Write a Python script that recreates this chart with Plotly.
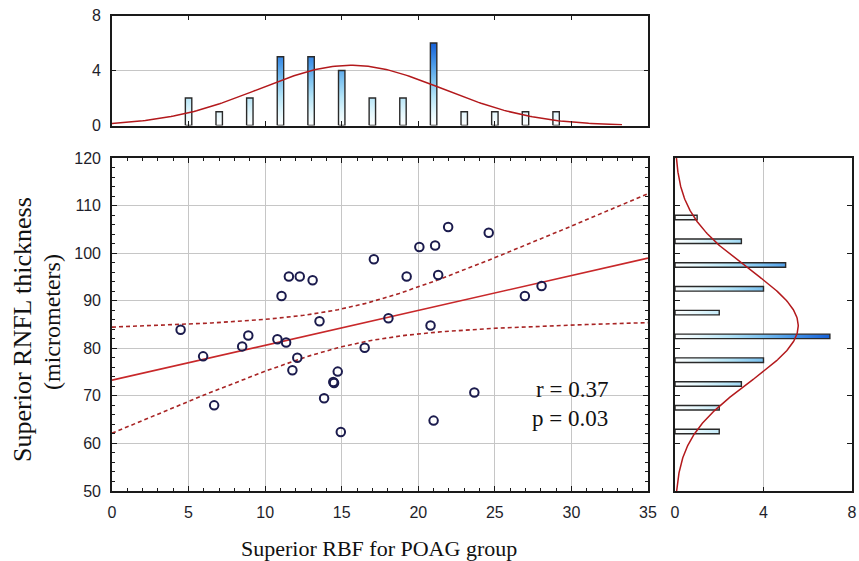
import numpy as np
import plotly.graph_objects as go

# Superior retrobulbar blood flow (RBF) and superior RNFL thickness, POAG group
rbf = [4.48, 5.95, 6.67, 8.5, 8.9, 10.8, 11.07, 11.37, 11.55, 11.78, 12.1,
       12.26, 13.1, 13.55, 13.85, 14.45, 14.5, 14.74, 14.94, 16.5, 17.1,
       18.05, 19.24, 20.07, 20.8, 21.0, 21.1, 21.3, 21.95, 23.66, 24.6,
       26.96, 28.05]
rnfl = [83.9, 78.3, 68.0, 80.4, 82.7, 81.9, 91.0, 81.2, 95.1, 75.4, 78.0,
        95.1, 94.3, 85.7, 69.5, 72.9, 72.7, 75.1, 62.4, 80.1, 98.7,
        86.3, 95.1, 101.3, 84.8, 64.8, 101.6, 95.4, 105.5, 70.7, 104.3,
        91.0, 93.1]

stats_text = ["r = 0.37", "p = 0.03"]
x_ticks = [0, 5, 10, 15, 20, 25, 30, 35]
y_ticks = [50, 60, 70, 80, 90, 100, 110, 120]
count_ticks = [0, 4, 8]
rbf_edges = np.arange(4, 31, 2)
rnfl_edges = np.arange(60, 111, 5)

x = np.array(rbf)
y = np.array(rnfl)
n = len(x)

# linear fit with 95% confidence band for the mean
slope, intercept = np.polyfit(x, y, 1)
xf = np.linspace(0, 35, 141)
yf = intercept + slope * xf
resid = y - (intercept + slope * x)
s = np.sqrt(np.sum(resid ** 2) / (n - 2))
sxx = np.sum((x - x.mean()) ** 2)
t_crit = 2.0395
half = t_crit * s * np.sqrt(1 / n + (xf - x.mean()) ** 2 / sxx)

# histograms
cx, _ = np.histogram(x, bins=rbf_edges)
cy, _ = np.histogram(y, bins=rnfl_edges)
cx_mid = (rbf_edges[:-1] + rbf_edges[1:]) / 2
cy_mid = (rnfl_edges[:-1] + rnfl_edges[1:]) / 2


def bar_paths(centers, counts, width, horizontal=False):
    px, py = [], []
    for c, h in zip(centers, counts):
        if h == 0:
            continue
        a, b = c - width / 2, c + width / 2
        if horizontal:
            px += [0, h, h, 0, 0, None]
            py += [a, a, b, b, a, None]
        else:
            px += [a, a, b, b, a, None]
            py += [0, h, h, 0, 0, None]
    return px, py


blues = [[0, "#ffffff"], [0.15, "#e4f7fc"], [0.35, "#b4e4f7"],
         [0.55, "#7ec3f0"], [0.75, "#4898e8"], [1, "#1560d8"]]

fig = go.Figure()

# main scatter panel
fig.add_trace(go.Scatter(x=xf, y=yf + half, mode="lines",
                         line=dict(color="#a82424", width=1.6, dash="4px,3px"),
                         hoverinfo="skip"))
fig.add_trace(go.Scatter(x=xf, y=yf - half, mode="lines",
                         line=dict(color="#a82424", width=1.6, dash="4px,3px"),
                         hoverinfo="skip"))
fig.add_trace(go.Scatter(x=xf, y=yf, mode="lines",
                         line=dict(color="#c8282a", width=1.6)))
fig.add_trace(go.Scatter(x=rbf, y=rnfl, mode="markers",
                         marker=dict(symbol="circle-open", size=8.5,
                                     color="#1b1b4d", line=dict(width=2))))

# top histogram of RBF
bx, by = bar_paths(cx_mid, cx, 0.42)
fig.add_trace(go.Scatter(x=bx, y=by, mode="lines", fill="toself",
                         fillgradient=dict(type="vertical", colorscale=blues,
                                           start=0, stop=int(cx.max())),
                         line=dict(color="#2a2a2a", width=1.4),
                         xaxis="x2", yaxis="y2"))
gx = np.linspace(0, 33.3, 200)
gy = n * 2 * np.exp(-0.5 * ((gx - x.mean()) / x.std(ddof=1)) ** 2) / (
    x.std(ddof=1) * np.sqrt(2 * np.pi))
fig.add_trace(go.Scatter(x=gx, y=gy, mode="lines",
                         line=dict(color="#b3191c", width=1.5),
                         xaxis="x2", yaxis="y2"))

# right histogram of RNFL
hx, hy = bar_paths(cy_mid, cy, 0.95, horizontal=True)
fig.add_trace(go.Scatter(x=hx, y=hy, mode="lines", fill="toself",
                         fillgradient=dict(type="horizontal", colorscale=blues,
                                           start=0, stop=int(cy.max())),
                         line=dict(color="#2a2a2a", width=1.4),
                         xaxis="x3", yaxis="y3"))
gyy = np.linspace(50, 120, 300)
gxx = n * 5 * np.exp(-0.5 * ((gyy - y.mean()) / y.std(ddof=1)) ** 2) / (
    y.std(ddof=1) * np.sqrt(2 * np.pi))
fig.add_trace(go.Scatter(x=gxx, y=gyy, mode="lines",
                         line=dict(color="#b3191c", width=1.5),
                         xaxis="x3", yaxis="y3"))

tick_font = dict(family="Liberation Sans, Arial, sans-serif", size=16,
                 color="#1e1e2a")
axis_common = dict(showline=True, linecolor="#1a1a1a", linewidth=1.6,
                   mirror="allticks", ticks="inside", tickcolor="#1a1a1a",
                   tickwidth=1.3, zeroline=False, automargin=False,
                   gridcolor="#c6c6c6", gridwidth=1.4, tickfont=tick_font)

W, H = 859, 561
main_x = [112 / W, 648 / W]
main_y = [(H - 491) / H, (H - 158) / H]
top_y = [(H - 125.5) / H, (H - 15.5) / H]
right_x = [675 / W, 852 / W]

fig.update_layout(
    width=W, height=H, margin=dict(l=0, r=0, t=0, b=0),
    paper_bgcolor="white", plot_bgcolor="white", showlegend=False,
    xaxis=dict(domain=main_x, range=[0, 35], tickvals=x_ticks, ticklen=5,
               minor=dict(dtick=1, ticks="inside", ticklen=3,
                          tickcolor="#1a1a1a", showgrid=False),
               ticklabelstandoff=6, **axis_common),
    yaxis=dict(domain=main_y, range=[50, 120], tickvals=y_ticks, ticklen=5,
               minor=dict(dtick=2, ticks="inside", ticklen=3,
                          tickcolor="#1a1a1a", showgrid=False),
               ticklabelstandoff=6, **axis_common),
    xaxis2=dict(domain=main_x, range=[0, 35], tickvals=x_ticks[1:-1],
                ticklen=5, showticklabels=False, showgrid=False,
                anchor="y2", **axis_common),
    yaxis2=dict(domain=top_y, range=[0, 8], tickvals=count_ticks, ticklen=4,
                anchor="x2", ticklabelstandoff=6, **axis_common),
    xaxis3=dict(domain=right_x, range=[0, 8], tickvals=count_ticks, ticklen=4,
                anchor="y3", ticklabelstandoff=6, **axis_common),
    yaxis3=dict(domain=main_y, range=[50, 120], tickvals=y_ticks[1:-1],
                ticklen=5, showticklabels=False, showgrid=False,
                anchor="x3", **axis_common),
)

serif = "Liberation Serif, Times New Roman, serif"
fig.add_annotation(text="Superior RBF for POAG group", xref="paper",
                   yref="paper", x=379 / W, y=(H - 548) / H, showarrow=False,
                   xanchor="center", yanchor="middle",
                   font=dict(family=serif, size=22, color="#111"))
fig.add_annotation(text="Superior RNFL thickness", xref="paper", yref="paper",
                   x=22 / W, y=(H - 330) / H, textangle=-90, showarrow=False,
                   xanchor="center", yanchor="middle",
                   font=dict(family=serif, size=26, color="#111"))
fig.add_annotation(text="(micrometers)", xref="paper", yref="paper",
                   x=52 / W, y=(H - 322) / H, textangle=-90, showarrow=False,
                   xanchor="center", yanchor="middle",
                   font=dict(family=serif, size=24, color="#111"))
for label, yv in zip(stats_text, [71.4, 65.3]):
    fig.add_annotation(text=label, xref="x", yref="y", x=32.5, y=yv,
                       showarrow=False, xanchor="right", yanchor="middle",
                       font=dict(family=serif, size=23, color="#111"))

fig.write_html("out.html")
